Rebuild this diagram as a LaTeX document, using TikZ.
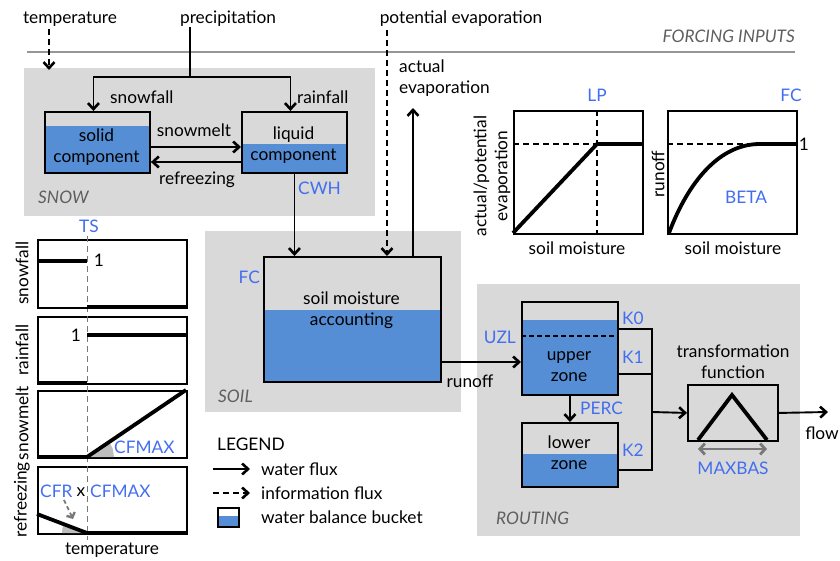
\documentclass[tikz,border=0pt]{standalone}
\usepackage{fontspec}
\setmainfont{Lato}
\usetikzlibrary{arrows.meta}
\definecolor{bucketblue}{RGB}{85,142,213}
\definecolor{lblblue}{RGB}{66,110,240}
\definecolor{panelgray}{RGB}{217,217,217}
\definecolor{txtgray}{RGB}{95,95,95}
\definecolor{rulegray}{RGB}{150,150,150}
\definecolor{wedgegray}{RGB}{190,190,190}
\definecolor{arrgray}{RGB}{120,120,120}
\begin{document}
\begin{tikzpicture}[x=1pt,y=-1pt,
  every node/.style={inner sep=0pt, font=\fontsize{17.3}{21}\selectfont},
  lbl/.style={text=lblblue},
  sect/.style={text=txtgray, font=\fontsize{17.3}{21}\selectfont\itshape},
  panel/.style={fill=panelgray, draw=none, anchor=north west},
  box/.style={draw, line width=1.9pt, anchor=north west},
  conn/.style={line width=1.9pt},
  flux/.style={line width=1.9pt, -{Straight Barb[length=6pt,width=11pt,line width=2.6pt]}},
  info/.style={flux, dash pattern=on 6pt off 4pt},
  curve/.style={line width=3.8pt},
  guide/.style={line width=1.3pt, dash pattern=on 6pt off 4pt},
  tsguide/.style={line width=1.2pt, draw=arrgray, dash pattern=on 6pt off 4pt},
  maxbas/.style={line width=2.8pt, draw=arrgray, {Straight Barb[length=5pt,width=11pt]}-{Straight Barb[length=5pt,width=11pt]}},
  grayarrow/.style={line width=1.8pt, draw=arrgray, dash pattern=on 4pt off 3pt, -{Straight Barb[length=4pt,width=9pt,line width=2.4pt]}}
]
\useasboundingbox (0,0) rectangle (840,561);

% ---------- panels ----------
\node[panel, minimum width=351pt, minimum height=148pt] (snowp) at (24,68) {};
\node[panel, minimum width=256pt, minimum height=181pt] (soilp) at (205,231) {};
\node[panel, minimum width=323pt, minimum height=252pt] (routp) at (477,284) {};
\node[sect, anchor=west] (snowl) at (38,197) {SNOW};
\node[sect, anchor=west] (soill) at (218,396) {SOIL};
\node[sect, anchor=west] (routl) at (496,518) {ROUTING};

% ---------- forcing ----------
\draw[rulegray, line width=1.5pt] (27,52) -- (795,52);
\node[sect, anchor=east] (forcing) at (795,36) {FORCING INPUTS};
\node (temp) at (70,19) {temperature};
\node (precip) at (228,19) {precipitation};
\node (pet) at (461,19) {potential evaporation};
\coordinate (tin) at (49,70);
\draw[info] ([yshift=-3pt]temp.south -| tin) -- (tin);

% ---------- snow ----------
\fill[bucketblue] (44,126) rectangle (149,172);
\node[box, minimum width=105pt, minimum height=61pt] (solid) at (44,111) {};
\node[align=center] (solidt) at (96.5,147) {solid\\component};
\fill[bucketblue] (241,144) rectangle (346,172);
\node[box, minimum width=105pt, minimum height=61pt] (liquid) at (241,111) {};
\node[align=center] (liquidt) at (293.5,145) {liquid\\component};
\coordinate (pj) at (190,77);
\draw[conn] (precip.south -| pj) -- (pj);
\draw[flux] (pj) -| ([xshift=-4pt]solid.north);
\draw[flux] (pj) -| ([xshift=-4pt]liquid.north);
\node[anchor=west] (snowfall) at (110,97) {snowfall};
\node[anchor=west] (rainfall) at (297,97) {rainfall};
\draw[flux] (solid.east |- 0,147) -- (liquid.west |- 0,147);
\draw[flux] (liquid.west |- 0,162) -- (solid.east |- 0,162);
\node (smelt) at (194,130) {snowmelt};
\node (refr) at (197,180) {refreezing};
\node[lbl, anchor=west] (cwh) at (298,188) {CWH};

% ---------- soil ----------
\fill[bucketblue] (263,310) rectangle (440,381);
\node[box, minimum width=177pt, minimum height=125pt] (soilbox) at (263,256) {};
\node[align=center] (soilt) at (351.5,310) {soil moisture\\accounting};
\node[lbl, anchor=east] (fcs) at (260,277) {FC};
\draw[flux] (liquid.south) -- (soilbox.north -| liquid.south);
\coordinate (petx) at (387,60);
\draw[info] ([yshift=-3pt]pet.south -| petx) -- (soilbox.north -| petx);
\coordinate (aetop) at (413,108);
\draw[flux] (soilbox.north -| aetop) -- (aetop);
\node[anchor=north west, align=left] (aet) at (399,60) {actual\\evaporation};

% ---------- routing ----------
\fill[bucketblue] (521,320) rectangle (617,394);
\node[box, minimum width=96pt, minimum height=93pt] (upper) at (521,301) {};
\draw[line width=1.5pt, dash pattern=on 5pt off 3pt] (upper.west |- 0,336) -- (upper.east |- 0,336);
\node[align=center] (uppert) at (569,367) {upper\\zone};
\draw[flux] (soilbox.east |- 0,362) -- (upper.west |- 0,362);
\node (runoff) at (470,381) {runoff};
\node[lbl, anchor=east] (uzl) at (516,337) {UZL};
\fill[bucketblue] (521,454) rectangle (617,486);
\node[box, minimum width=96pt, minimum height=64pt] (lower) at (521,422) {};
\node[align=center] (lowert) at (569,453) {lower\\zone};
\draw[flux] (upper.south) -- (lower.north);
\node[lbl, anchor=west] (perc) at (580,408) {PERC};
\node[lbl, anchor=west] (k0) at (622,318) {K0};
\node[lbl, anchor=west] (k1) at (622,357) {K1};
\node[lbl, anchor=west] (k2) at (622,450) {K2};
\coordinate (cj) at (652,412);
\draw[conn] (upper.east |- 0,329) -- (cj |- 0,329) -- (cj |- 0,470) -- (lower.east |- 0,470);
\draw[conn] (upper.east |- 0,374) -- (cj |- 0,374);
\node[box, minimum width=90pt, minimum height=56pt] (trans) at (687,384) {};
\draw[flux] (cj) -- (trans.west);
\draw[curve] (698,440) -- (732,395) -- (767,440);
\node[align=center] (transt) at (733,362) {transformation\\function};
\coordinate (fout) at (828,412);
\draw[flux] (trans.east) -- (fout);
\node (flow) at (822,433) {flow};
\draw[maxbas] (698,449) -- (767,449);
\node[lbl] (maxbasl) at (733,468) {MAXBAS};

% ---------- right graphs ----------
\node[box, minimum width=129pt, minimum height=123pt] (g1) at (513,110) {};
\draw[guide] (597,110) -- (597,233);
\draw[guide] (513,144) -- (597,144);
\draw[curve] (513,233) -- (597,144) -- (642,144);
\node[lbl] (lp) at (597,95) {LP};
\node[rotate=90, align=center] (g1y) at (492,176) {actual/potential\\evaporation};
\node (g1x) at (577,248) {soil moisture};

\node[box, minimum width=129pt, minimum height=123pt] (g2) at (667,110) {};
\draw[guide] (667,144) -- (755,144);
\draw[curve] (669,233) .. controls (685,190) and (715,144) .. (760,144) -- (796,144);
\node[lbl] (fc2) at (791,95) {FC};
\node (one2) at (804,144) {1};
\node[rotate=90] (g2y) at (658,174) {runoff};
\node[lbl] (beta) at (746,197) {BETA};
\node (g2x) at (733,248) {soil moisture};

% ---------- left graphs ----------
\node[box, minimum width=149pt, minimum height=68pt] (gsf) at (37,239) {};
\node[box, minimum width=149pt, minimum height=67pt] (grf) at (37,316) {};
\node[box, minimum width=149pt, minimum height=67pt] (gsm) at (37,390) {};
\node[box, minimum width=149pt, minimum height=67pt] (grz) at (37,466) {};
\fill[wedgegray] (87,457) -- (114,457) -- (112.8,449.1) -- (109.4,441.9) -- cycle;
\fill[wedgegray] (87,533) -- (62,533) -- (62.4,528.5) -- (63.6,524.1) -- cycle;
\draw[tsguide] (87.5,236) -- (87.5,540);
\draw[curve] (37,261) -- (87,261);
\draw[curve] (87,307) -- (186,307);
\draw[curve] (37,383) -- (87,383);
\draw[curve] (87,335) -- (186,335);
\draw[curve] (37,457) -- (87,457) -- (186,390);
\draw[curve] (37,514) -- (87,533) -- (186,533);
\node[lbl] (ts) at (89,226) {TS};
\node (one1) at (99,260) {1};
\node (one3) at (76,335) {1};
\node[rotate=90] (ysf) at (22,273) {snowfall};
\node[rotate=90] (yrf) at (22,350) {rainfall};
\node[rotate=90] (ysm) at (22,423) {snowmelt};
\node[rotate=90] (yrz) at (22,500) {refreezing};
\node[lbl, anchor=west] (cfmax1) at (114,447) {CFMAX};
\node[lbl, anchor=west] (cfr) at (40,491) {CFR};
\node (times) at (81,492) {x};
\node[lbl, anchor=west] (cfmax2) at (90,491) {CFMAX};
\coordinate (ga1) at (64,500);
\coordinate (ga2) at (73,519);
\draw[grayarrow] (ga1) -- (ga2);
\node (tempx) at (112,550) {temperature};

% ---------- legend ----------
\node[anchor=west] (legend) at (217,444) {LEGEND};
\coordinate (la1) at (213,469);
\coordinate (la2) at (250,469);
\draw[flux] (la1) -- (la2);
\node[anchor=west] (lwf) at (261,469) {water flux};
\coordinate (lb1) at (213,493);
\coordinate (lb2) at (250,493);
\draw[info] (lb1) -- (lb2);
\node[anchor=west] (lif) at (261,493) {information flux};
\fill[bucketblue] (217,516) rectangle (238,526);
\node[box, minimum width=21pt, minimum height=19pt] (lbk) at (217,507) {};
\node[anchor=west] (lwb) at (261,517) {water balance bucket};
\end{tikzpicture}
\end{document}
